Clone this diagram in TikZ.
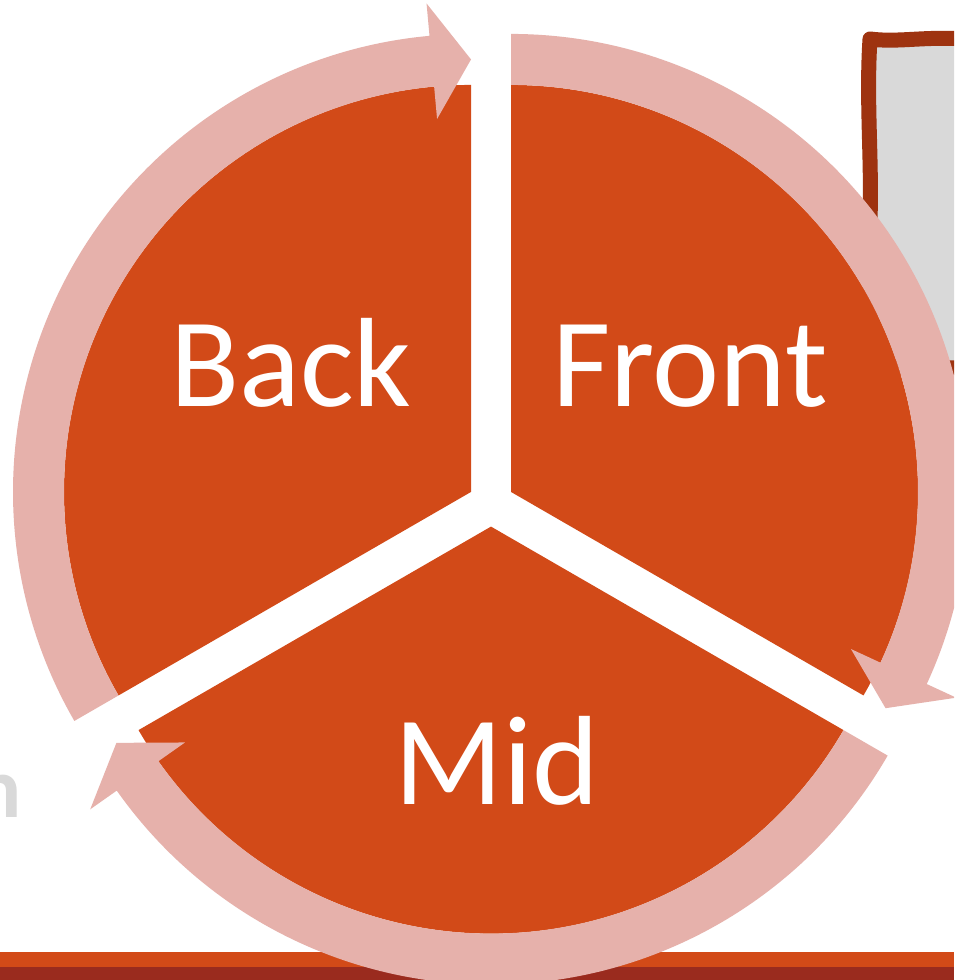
\documentclass[tikz,border=0pt]{standalone}
\usepackage{fontspec}
\setmainfont{Carlito}
\usetikzlibrary{calc}
\definecolor{sectorOrange}{RGB}{210,74,24}
\definecolor{ringPink}{RGB}{230,177,171}
\definecolor{barRed}{RGB}{154,43,30}
\definecolor{boxRed}{RGB}{158,51,16}
\definecolor{boxGray}{RGB}{217,217,217}
\newcommand\ringArrow[3]{%
  \fill[ringarrow] ($(#1)+(#2:458)$) arc[start angle=#2,end angle=#3+5.2,radius=458]
    -- ($(#1)+(#3+5.2:490.5)$) -- ($(#1)+(#3:432.5)$) -- ($(#1)+(#3+5.2:374.5)$)
    -- ($(#1)+(#3+5.2:407)$) arc[start angle=#3+5.2,end angle=#2,radius=407] -- cycle;}
\begin{document}
\begin{tikzpicture}[x=1pt,y=1pt,
  sector/.style={fill=sectorOrange},
  ringarrow/.style={fill=ringPink},
  seglabel/.style={text=white,font=\fontsize{127}{127}\selectfont,inner sep=0pt,anchor=base}]
\useasboundingbox (0,0) rectangle (954,980);
\clip (0,0) rectangle (954,980);
\fill[white] (0,0) rectangle (954,980);
% bottom bars
\fill[sectorOrange] (0,13) rectangle (954,28);
\fill[barRed] (0,0) rectangle (954,13);
% sketchy box
\draw[boxRed, fill=boxGray, line width=15pt, line join=round]
  (870,941) .. controls (900,937) and (930,945) .. (975,940) -- (975,612) -- (870,612)
  -- (870,760) .. controls (872,820) and (866,880) .. (870,941) -- cycle;
% partial gray text at left
\node[text=boxGray, font=\fontsize{86}{86}\selectfont\bfseries, anchor=base east, inner sep=0pt] (ntext) at (22,162) {n};
% sector centres
\coordinate (Cb) at (471,488.05);
\coordinate (Cf) at (511,488.05);
\coordinate (Cm) at (491,453.4);
% sectors
\fill[sector] (Cb) -- ($(Cb)+(90:407)$) arc[start angle=90,end angle=210,radius=407] -- cycle;
\fill[sector] (Cf) -- ($(Cf)+(-30:407)$) arc[start angle=-30,end angle=90,radius=407] -- cycle;
\fill[sector] (Cm) -- ($(Cm)+(210:407)$) arc[start angle=210,end angle=330,radius=407] -- cycle;
% ring arrows
\ringArrow{Cb}{210}{90}
\ringArrow{Cf}{90}{-30}
\ringArrow{Cm}{-30}{-150}
% labels
\node[seglabel] (back) at (291,573) {Back};
\node[seglabel] (front) at (690,573) {Front};
\node[seglabel] (mid) at (497,175) {Mid};
\end{tikzpicture}
\end{document}
